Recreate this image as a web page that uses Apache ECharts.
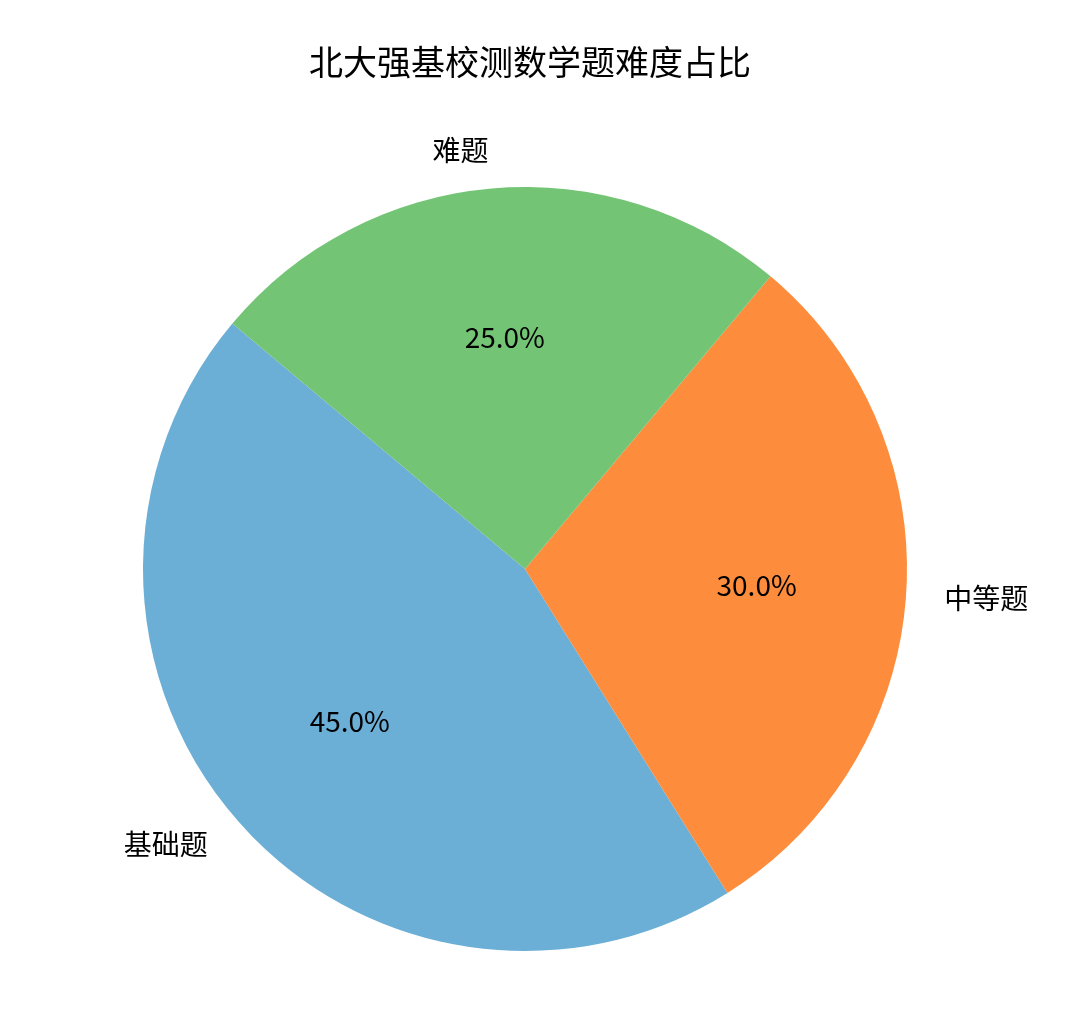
<!DOCTYPE html>
<html>
<head>
<meta charset="utf-8">
<script src="https://cdn.jsdelivr.net/npm/echarts@6/dist/echarts.min.js"></script>
<style>
html,body{margin:0;padding:0;background:#fff;}
#chart{width:1080px;height:1034px;}
</style>
</head>
<body>
<div id="chart"></div>
<script>
const titleText = '北大强基校测数学题难度占比';
const categories = ['基础题', '中等题', '难题'];
const values = [45, 30, 25];
const colors = ['#6baed6', '#fd8d3c', '#74c476'];

const FONT = '"Noto Sans CJK SC", "Noto Sans", sans-serif';
const R = 382;
const CENTER = [525, 569];

const pieData = categories.map((c, i) => ({ name: c, value: values[i], itemStyle: { color: colors[i] } }));
const pctData = categories.map((c, i) => ({ name: c, value: values[i] }));

const chart = echarts.init(document.getElementById('chart'));
chart.setOption({
  backgroundColor: '#ffffff',
  animation: false,
  title: {
    text: titleText,
    left: 525,
    top: 40,
    textAlign: 'center',
    textStyle: { fontFamily: FONT, fontSize: 34, fontWeight: 'normal', color: '#000' }
  },
  series: [
    {
      type: 'pie',
      center: CENTER,
      radius: [0, R],
      startAngle: 140,
      clockwise: false,
      avoidLabelOverlap: false,
      silent: true,
      itemStyle: { borderWidth: 0 },
      data: pieData,
      label: {
        show: true,
        position: 'outside',
        distanceToLabelLine: 0,
        formatter: '{b}',
        fontFamily: FONT,
        fontSize: 28,
        color: '#000'
      },
      labelLine: { show: false, length: R * 0.1, length2: 0 },
      emphasis: { disabled: true }
    },
    {
      type: 'pie',
      center: CENTER,
      radius: [0, R * 1.2],
      startAngle: 140,
      clockwise: false,
      avoidLabelOverlap: false,
      silent: true,
      itemStyle: { color: 'rgba(0,0,0,0)', borderWidth: 0 },
      data: pctData,
      label: {
        show: true,
        position: 'inside',
        formatter: p => p.percent.toFixed(1) + '%',
        fontFamily: FONT,
        fontSize: 28,
        color: '#000'
      },
      labelLine: { show: false },
      emphasis: { disabled: true }
    }
  ]
});
</script>
</body>
</html>
